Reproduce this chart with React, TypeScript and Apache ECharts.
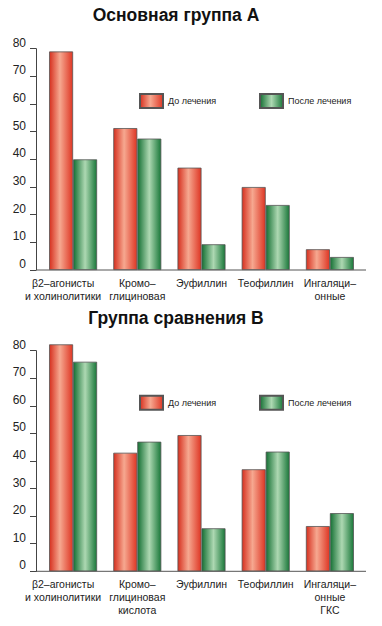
import React, { useEffect, useRef } from "react";
import * as echarts from "echarts";

const titleA = "Основная группа А";
const titleB = "Группа сравнения В";
const seriesNames = ["До лечения", "После лечения"];
const categoriesA = ["β2–агонисты\nи холинолитики", "Кромо–\nглициновая", "Эуфиллин", "Теофиллин", "Ингаляци–\nонные"];
const categoriesB = ["β2–агонисты\nи холинолитики", "Кромо–\nглициновая\nкислота", "Эуфиллин", "Теофиллин", "Ингаляци–\nонные\nГКС"];
const beforeA = [79, 51.3, 37, 30, 7.5];
const afterA = [40, 47.5, 9.3, 23.5, 4.7];
const beforeB = [82.3, 43, 49.4, 37, 16.4];
const afterB = [76, 47, 15.6, 43.4, 21.1];
const yTicks = { min: 0, max: 80, interval: 10 };

const FONT = "Liberation Sans, Arial, sans-serif";

const redGrad = () =>
  new echarts.graphic.LinearGradient(0, 0, 1, 0, [
    { offset: 0, color: "#d6301f" },
    { offset: 0.45, color: "#f6a890" },
    { offset: 1, color: "#de3624" },
  ]);
const greenGrad = () =>
  new echarts.graphic.LinearGradient(0, 0, 1, 0, [
    { offset: 0, color: "#157034" },
    { offset: 0.5, color: "#add8b2" },
    { offset: 1, color: "#1a783a" },
  ]);

function catData(cats: string[]) {
  return cats.map((c, i) =>
    i === 0 ? { value: c, textStyle: { padding: [0, 20, 0, 0] } } : c
  );
}

export default function App() {
  const ref = useRef<HTMLDivElement>(null);
  useEffect(() => {
    if (!ref.current) return;
    const chart = echarts.init(ref.current, undefined, { renderer: "svg" });
    const grids = [
      { left: 41, width: 321, top: 48.7, height: 221.3 },
      { left: 41, width: 321, top: 350.7, height: 220.6 },
    ];
    const xAxis = [categoriesA, categoriesB].map((cats, i) => ({
      type: "category",
      gridIndex: i,
      data: catData(cats),
      axisLine: { show: false },
      axisTick: { show: false },
      axisLabel: {
        interval: 0,
        margin: 6,
        fontSize: 10.5,
        lineHeight: 13,
        color: "#222",
        fontFamily: FONT,
      },
    }));
    const yAxis = [0, 1].map((i) => ({
      type: "value",
      gridIndex: i,
      min: yTicks.min,
      max: yTicks.max,
      interval: yTicks.interval,
      offset: 5,
      axisLine: { show: true, lineStyle: { color: "#444", width: 1 } },
      axisTick: { show: true, length: 6, lineStyle: { color: "#444" } },
      splitLine: { show: false },
      axisLabel: {
        margin: 10,
        fontSize: 12,
        color: "#222",
        fontFamily: FONT,
        verticalAlign: "bottom",
      },
    }));
    const mkSeries = (name: string, data: number[], idx: number, red: boolean) => ({
      type: "bar",
      name,
      xAxisIndex: idx,
      yAxisIndex: idx,
      data,
      clip: false,
      barWidth: 24,
      barGap: "0%",
      itemStyle: {
        color: red ? redGrad() : greenGrad(),
        borderColor: "#555",
        borderWidth: 0.8,
      },
    });
    const legend = (name: string, left: number, top: number) => ({
      data: [{ name, icon: "rect" }],
      left,
      top,
      padding: 0,
      itemWidth: 23,
      itemHeight: 14,
      itemGap: 0,
      selectedMode: false,
      textStyle: { fontSize: 9, color: "#222", fontFamily: FONT },
    });
    chart.setOption({
      animation: false,
      backgroundColor: "#fff",
      title: [
        {
          text: titleA,
          left: 176,
          top: 6,
          padding: 0,
          textAlign: "center",
          textStyle: { fontSize: 17.5, fontWeight: "bold", color: "#111", fontFamily: FONT },
        },
        {
          text: titleB,
          left: 176,
          top: 309,
          padding: 0,
          textAlign: "center",
          textStyle: { fontSize: 17.5, fontWeight: "bold", color: "#111", fontFamily: FONT },
        },
      ],
      legend: [
        legend(seriesNames[0], 139, 93),
        legend(seriesNames[1], 259, 93),
        legend(seriesNames[0], 139, 394.7),
        legend(seriesNames[1], 259, 394.7),
      ],
      grid: grids,
      xAxis,
      yAxis,
      graphic: [
        { type: "line", shape: { x1: 36, y1: 270, x2: 366, y2: 270 }, style: { stroke: "#555", lineWidth: 1 } },
        { type: "line", shape: { x1: 36, y1: 571.3, x2: 366, y2: 571.3 }, style: { stroke: "#555", lineWidth: 1 } },
      ],
      series: [
        mkSeries(seriesNames[0], beforeA, 0, true),
        mkSeries(seriesNames[1], afterA, 0, false),
        mkSeries(seriesNames[0], beforeB, 1, true),
        mkSeries(seriesNames[1], afterB, 1, false),
      ],
    });
    return () => chart.dispose();
  }, []);
  return (
    <div
      ref={ref}
      style={{ position: "fixed", left: 0, top: 0, width: 382, height: 626 }}
    />
  );
}
